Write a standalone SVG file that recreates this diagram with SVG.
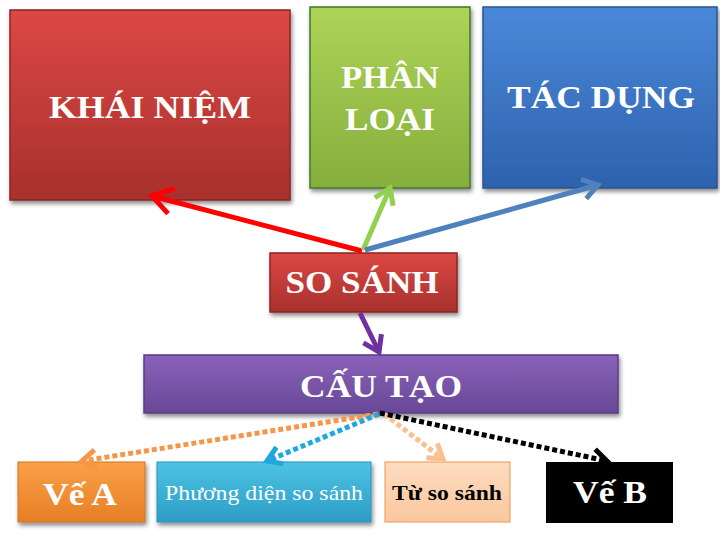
<svg xmlns="http://www.w3.org/2000/svg" width="720" height="540" viewBox="0 0 720 540">
<style>
.t{font-family:"Liberation Serif","Times New Roman",serif;font-weight:bold;fill:#fff;text-anchor:middle}
.n{font-weight:normal}
.ln{fill:none;stroke-width:5;stroke-linecap:butt}
.dot{fill:none;stroke-width:5;stroke-dasharray:5 3}
.hd{fill:none;stroke-width:5;stroke-linejoin:miter}
</style>
<defs>
<filter id="sh" x="-10%" y="-10%" width="130%" height="140%">
<feDropShadow dx="1.5" dy="3" stdDeviation="2" flood-color="#000" flood-opacity="0.45"/>
</filter>
<linearGradient id="gR" x1="0" y1="0" x2="0" y2="1"><stop offset="0" stop-color="#DC4844"/><stop offset="1" stop-color="#A7302D"/></linearGradient>
<linearGradient id="gG" x1="0" y1="0" x2="0" y2="1"><stop offset="0" stop-color="#ADD357"/><stop offset="1" stop-color="#86AE3C"/></linearGradient>
<linearGradient id="gB" x1="0" y1="0" x2="0" y2="1"><stop offset="0" stop-color="#4A88D8"/><stop offset="1" stop-color="#2E62AE"/></linearGradient>
<linearGradient id="gP" x1="0" y1="0" x2="0" y2="1"><stop offset="0" stop-color="#8A62BA"/><stop offset="1" stop-color="#684896"/></linearGradient>
<linearGradient id="gO" x1="0" y1="0" x2="0" y2="1"><stop offset="0" stop-color="#FAA046"/><stop offset="1" stop-color="#E77F26"/></linearGradient>
<linearGradient id="gC" x1="0" y1="0" x2="0" y2="1"><stop offset="0" stop-color="#4CC3E3"/><stop offset="1" stop-color="#2D9DC6"/></linearGradient>
<linearGradient id="gK" x1="0" y1="0" x2="0" y2="1"><stop offset="0" stop-color="#FDDCC0"/><stop offset="1" stop-color="#FAC79E"/></linearGradient>
<marker id="aR" viewBox="-26 -18 32 36" markerWidth="32" markerHeight="36" refX="0" refY="0" orient="auto" markerUnits="userSpaceOnUse"><path class="hd" d="M-20,-13 L0,0 L-20,13" stroke="#FF0000"/></marker>
<marker id="aG" viewBox="-22 -15 28 30" markerWidth="28" markerHeight="30" refX="0" refY="0" orient="auto" markerUnits="userSpaceOnUse"><path class="hd" d="M-15,-10 L0,0 L-15,10" stroke="#92D050"/></marker>
<marker id="aB" viewBox="-22 -15 28 30" markerWidth="28" markerHeight="30" refX="0" refY="0" orient="auto" markerUnits="userSpaceOnUse"><path class="hd" d="M-15,-10 L0,0 L-15,10" stroke="#4F81BD"/></marker>
<marker id="aP" viewBox="-22 -15 28 30" markerWidth="28" markerHeight="30" refX="0" refY="0" orient="auto" markerUnits="userSpaceOnUse"><path class="hd" d="M-15,-10 L0,0 L-15,10" stroke="#7030A0"/></marker>
<marker id="aO" viewBox="-22 -15 28 30" markerWidth="28" markerHeight="30" refX="0" refY="0" orient="auto" markerUnits="userSpaceOnUse"><path class="hd" d="M-14,-9 L0,0 L-14,9" stroke="#F79646"/></marker>
<marker id="aC" viewBox="-22 -15 28 30" markerWidth="28" markerHeight="30" refX="0" refY="0" orient="auto" markerUnits="userSpaceOnUse"><path class="hd" d="M-14,-9 L0,0 L-14,9" stroke="#1FA8E0"/></marker>
<marker id="aK" viewBox="-22 -15 28 30" markerWidth="28" markerHeight="30" refX="0" refY="0" orient="auto" markerUnits="userSpaceOnUse"><path class="hd" d="M-14,-9 L0,0 L-14,9" stroke="#FAC090"/></marker>
<marker id="aX" viewBox="-22 -15 28 30" markerWidth="28" markerHeight="30" refX="0" refY="0" orient="auto" markerUnits="userSpaceOnUse"><path class="hd" d="M-14,-9 L0,0 L-14,9" stroke="#000"/></marker>
</defs>
<rect width="720" height="540" fill="#fff"/>

<g id="khai-niem">
<rect x="10" y="10" width="280" height="190" fill="url(#gR)" stroke="#8E2422" stroke-width="1.5" filter="url(#sh)"/>
<text class="t" x="150" y="118" font-size="32" textLength="202" lengthAdjust="spacingAndGlyphs">KHÁI NIỆM</text>
</g>
<g id="phan-loai">
<rect x="310" y="7" width="160" height="181" fill="url(#gG)" stroke="#3E7A2C" stroke-width="1.5" filter="url(#sh)"/>
<text class="t" x="390" y="88" font-size="32" textLength="98" lengthAdjust="spacingAndGlyphs">PHÂN</text>
<text class="t" x="390" y="130" font-size="32" textLength="90" lengthAdjust="spacingAndGlyphs">LOẠI</text>
</g>
<g id="tac-dung">
<rect x="483" y="7" width="234" height="181" fill="url(#gB)" stroke="#2A5590" stroke-width="1.5" filter="url(#sh)"/>
<text class="t" x="601" y="108" font-size="32" textLength="188" lengthAdjust="spacingAndGlyphs">TÁC DỤNG</text>
</g>
<g id="so-sanh">
<rect x="270" y="253" width="187" height="59" fill="url(#gR)" stroke="#8E2422" stroke-width="1.5" filter="url(#sh)"/>
<text class="t" x="362" y="293" font-size="32" textLength="153" lengthAdjust="spacingAndGlyphs">SO SÁNH</text>
</g>
<g id="cau-tao">
<rect x="144" y="355" width="474" height="58" fill="url(#gP)" stroke="#5A3C84" stroke-width="1.5" filter="url(#sh)"/>
<text class="t" x="381" y="397" font-size="32" textLength="162" lengthAdjust="spacingAndGlyphs">CẤU TẠO</text>
</g>
<g id="ve-a">
<rect x="18" y="462" width="127" height="60" fill="url(#gO)" stroke="#D0741E" stroke-width="1" filter="url(#sh)"/>
<text class="t" x="80" y="505" font-size="32" textLength="74" lengthAdjust="spacingAndGlyphs">Vế A</text>
</g>
<g id="phuong-dien">
<rect x="157" y="462" width="214" height="60" fill="url(#gC)" stroke="#2A93BC" stroke-width="1" filter="url(#sh)"/>
<text class="t n" x="264" y="500" font-size="21" textLength="198" lengthAdjust="spacingAndGlyphs">Phương diện so sánh</text>
</g>
<g id="tu-so-sanh">
<rect x="385" y="462" width="125" height="60" fill="url(#gK)" stroke="#F4A266" stroke-width="1.2"/>
<text class="t" x="447" y="500" font-size="21" style="fill:#000" textLength="110" lengthAdjust="spacingAndGlyphs">Từ so sánh</text>
</g>
<g id="ve-b">
<rect x="546" y="462" width="127" height="61" fill="#000"/>
<text class="t" x="610" y="503" font-size="32" textLength="74" lengthAdjust="spacingAndGlyphs">Vế B</text>
</g>

<g id="connectors">
<line class="ln" x1="362" y1="251" x2="152" y2="196" stroke="#FF0000" marker-end="url(#aR)"/>
<line class="ln" x1="363" y1="250" x2="390" y2="188" stroke="#92D050" marker-end="url(#aG)"/>
<line class="ln" x1="365" y1="250" x2="598" y2="185" stroke="#4F81BD" marker-end="url(#aB)"/>
<line class="ln" x1="360" y1="313" x2="379" y2="352" stroke="#7030A0" marker-end="url(#aP)"/>
<line class="dot" x1="378" y1="414" x2="82" y2="461" stroke="#F79646" marker-end="url(#aO)"/>
<line class="dot" x1="379" y1="414" x2="267" y2="461" stroke="#1FA8E0" marker-end="url(#aC)"/>
<line class="dot" x1="384" y1="414" x2="443" y2="459" stroke="#FAC090" marker-end="url(#aK)"/>
<line class="dot" x1="380" y1="413" x2="607" y2="461" stroke="#000" marker-end="url(#aX)"/>
</g>
</svg>
